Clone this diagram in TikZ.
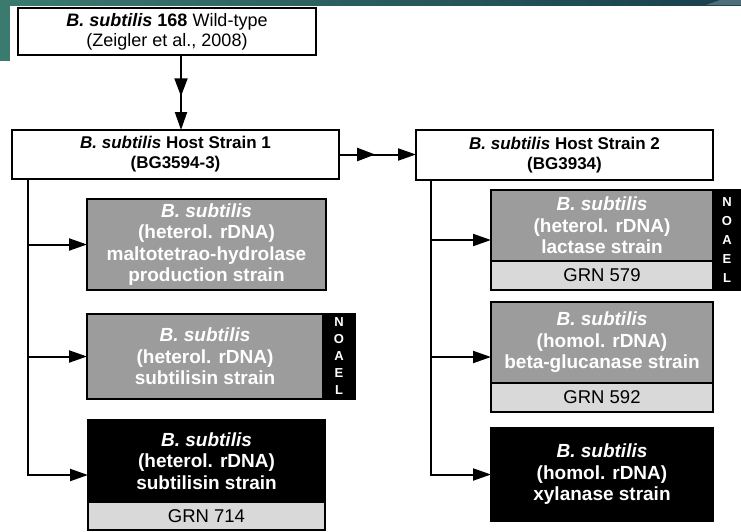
\documentclass[tikz,border=0pt]{standalone}
\usepackage{fontspec}
\setmainfont{Liberation Sans}
\usetikzlibrary{arrows.meta,calc,decorations.markings}

\definecolor{slidegreen}{HTML}{3B7A6E}
\definecolor{slideblue}{HTML}{173E4C}
\definecolor{slidegray}{HTML}{4E6E7A}
\definecolor{straingray}{HTML}{9C9C9C}
\definecolor{grngray}{HTML}{D9D9D9}

\newcommand{\Bsub}{\textbf{\textit{B. subtilis}}}

\begin{document}
\begin{tikzpicture}[x=1pt,y=-1pt,
  every node/.style={inner sep=0pt,outer sep=0pt,anchor=north west,align=center},
  strainbox/.style={draw=black,line width=2.2pt},
  hostbox/.style={strainbox,fill=white,text=black,font=\bfseries\fontsize{17}{20}\selectfont},
  graybox/.style={strainbox,fill=straingray,text=white,font=\bfseries\fontsize{19}{21.5}\selectfont},
  blackbox/.style={strainbox,fill=black,text=white,font=\bfseries\fontsize{19}{21.5}\selectfont},
  grnbox/.style={strainbox,fill=grngray,text=black,font=\fontsize{18.5}{21}\selectfont},
  noaelbox/.style={strainbox,fill=black,text=white,font=\bfseries\fontsize{13}{17}\selectfont},
  link/.style={line width=2pt,-{Triangle[length=18pt,width=12pt]}},
  twohead/.style={link,postaction={decorate},
    decoration={markings,mark=at position #1 with {\arrow{Triangle[length=18pt,width=13pt]}}}}
]
  \useasboundingbox (0,0) rectangle (741,531);

  % slide background
  \shade[left color=slidegreen,right color=slideblue] (0,0) rectangle (741,5);
  \fill[slidegray] (706,5) -- (720,0) -- (741,0) -- (741,5) -- cycle;
  \fill[slidegreen] (0,0) rectangle (10,61);

  % parent strains
  \node[hostbox,font=\fontsize{18}{20}\selectfont,minimum width=298pt,minimum height=47pt]
    (wild) at (18,8) {\Bsub{} \textbf{168} Wild-type\\(Zeigler et al., 2008)};
  \node[hostbox,minimum width=327pt,minimum height=49pt]
    (host1) at (12,130) {\textit{B. subtilis} Host Strain 1\\(BG3594-3)};
  \node[hostbox,minimum width=297pt,minimum height=50pt]
    (host2) at (416,130) {\textit{B. subtilis} Host Strain 2\\(BG3934)};

  % strains from host 1
  \node[graybox,minimum width=239pt,minimum height=91pt] (malto) at (87,199)
    {\textit{B. subtilis}\\(heterol. rDNA)\\maltotetrao-hydrolase\\production strain};
  \node[graybox,minimum width=236pt,minimum height=85pt] (subtA) at (87,314)
    {\textit{B. subtilis}\\(heterol. rDNA)\\subtilisin strain};
  \node[noaelbox,minimum width=32pt,minimum height=85pt] (noaelA) at (subtA.north east)
    {N\\O\\A\\E\\L};
  \node[blackbox,minimum width=237pt,minimum height=82pt] (subtB) at (88,420)
    {\textit{B. subtilis}\\(heterol. rDNA)\\subtilisin strain};
  \node[grnbox,minimum width=237pt,minimum height=28pt] (grn714) at (subtB.south west) {GRN 714};

  % strains from host 2
  \node[graybox,minimum width=222pt,minimum height=71pt] (lactase) at (491,190)
    {\textit{B. subtilis}\\(heterol. rDNA)\\lactase strain};
  \node[grnbox,minimum width=222pt,minimum height=29pt] (grn579) at (lactase.south west) {GRN 579};
  \node[noaelbox,font=\bfseries\fontsize{13}{19}\selectfont,minimum width=28pt,minimum height=100pt]
    (noaelB) at (lactase.north east) {N\\O\\A\\E\\L};
  \node[graybox,minimum width=222pt,minimum height=81pt] (glucan) at (491,302)
    {\textit{B. subtilis}\\(homol. rDNA)\\beta-glucanase strain};
  \node[grnbox,minimum width=222pt,minimum height=29pt] (grn592) at (glucan.south west) {GRN 592};
  \node[blackbox,minimum width=222pt,minimum height=93pt] (xylan) at (491,428)
    {\textit{B. subtilis}\\(homol. rDNA)\\xylanase strain};

  % lineage arrows
  \draw[twohead=0.55] ([xshift=14pt]wild.south) -- ([xshift=14pt]wild.south |- host1.north);
  \draw[twohead=0.47] (host1.east) -- (host1.east -| host2.west);

  \coordinate (trunkL) at ([xshift=16pt]host1.south west);
  \coordinate (inC) at ($(subtB.north west)!0.5!(grn714.south west)$);
  \draw[link] (trunkL |- malto.west) -- (malto.west);
  \draw[link] (trunkL |- subtA.west) -- (subtA.west);
  \draw[link] (trunkL) |- (inC);

  \coordinate (trunkR) at ([xshift=15pt]host2.south west);
  \coordinate (inD) at ($(lactase.north west)!0.5!(grn579.south west)$);
  \coordinate (inE) at ($(glucan.north west)!0.5!(grn592.south west)$);
  \draw[link] (trunkR |- inD) -- (inD);
  \draw[link] (trunkR |- inE) -- (inE);
  \draw[link] (trunkR) |- (xylan.west);
\end{tikzpicture}
\end{document}
